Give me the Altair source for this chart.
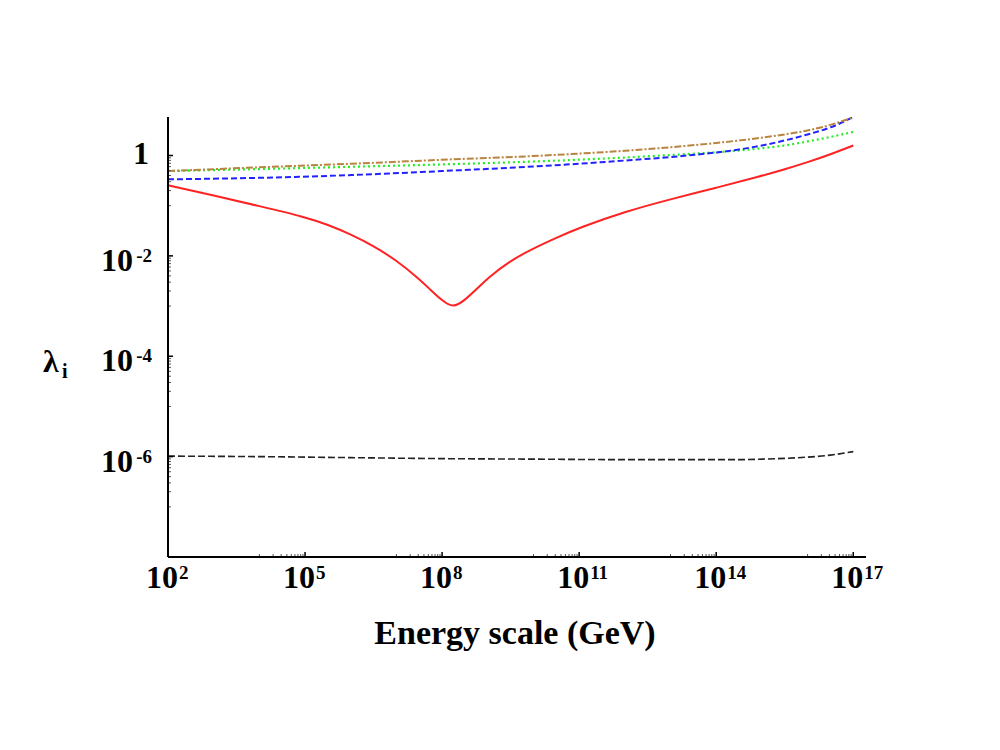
import altair as alt
import pandas as pd

# ---------------- data ----------------
energy = [1e2, 1e4, 1e6, 1e8, 1e10, 1e12, 1e13, 1e14, 3.16e14, 1e15, 3.16e15, 1e16, 3.16e16, 1e17]
lam_blue = [0.335, 0.359, 0.407, 0.490, 0.603, 0.794, 0.933, 1.148, 1.318, 1.585, 1.995, 2.630, 3.631, 5.85]
lam_green = [0.490, 0.537, 0.596, 0.664, 0.759, 0.912, 1.023, 1.161, 1.259, 1.396, 1.585, 1.905, 2.344, 2.951]
lam_brown = [0.490, 0.582, 0.684, 0.822, 0.977, 1.245, 1.462, 1.778, 1.995, 2.265, 2.630, 3.162, 4.074, 5.754]
lam_black = [1.023e-6, 1.0e-6, 9.55e-7, 9.12e-7, 8.91e-7, 8.71e-7, 8.71e-7, 8.71e-7, 8.71e-7,
             8.91e-7, 9.23e-7, 9.77e-7, 1.072e-6, 1.259e-6]

energy_red = [1e2, 1e3, 1e4, 1e5, 3.16e5, 1e6, 3.16e6, 1e7, 3.16e7, 5.62e7, 1e8, 1.74e8,
              3.16e8, 5.62e8, 1e9, 3.16e9, 1e10, 3.16e10, 1e11, 1e12, 1e13, 1e14, 1e15,
              3.16e15, 1e16, 3.16e16, 1e17]
lam_red = [0.2547, 0.1603, 0.0980, 0.0596, 0.0417, 0.0269, 0.01585, 0.00813, 0.00347, 0.00209,
           0.00129, 0.00091, 0.00132, 0.00214, 0.00363, 0.00813, 0.0141, 0.0229, 0.0363,
           0.0759, 0.135, 0.2265, 0.3936, 0.5309, 0.7328, 1.047, 1.585]

x_major = [1e2, 1e5, 1e8, 1e11, 1e14, 1e17]
x_major_exp = ["2", "5", "8", "11", "14", "17"]
y_major = [1e-6, 1e-4, 1e-2]
y_major_exp = ["-6", "-4", "-2"]
y_one = [1.0]
y_one_label = ["1"]

x_minor = [k * m / 10 for m in x_major[1:] for k in range(1, 10)]
y_minor = [k * m / 10 for m in [1e-6, 1e-4, 1e-2, 1.0] for k in range(1, 10)] + [1e-8]

x_title = "Energy scale (GeV)"

# ---------------- geometry / style ----------------
W, H = 698, 440
FONT = "Liberation Serif"
xs = alt.Scale(type="log", domain=[100, 1.9e17], nice=False)
ys = alt.Scale(type="log", domain=[1e-8, 5.85], nice=False)


def line_layer(xv, yv, color, dash, width, interp="monotone"):
    df = pd.DataFrame({"E": xv, "lam": yv})
    kw = dict(color=color, strokeWidth=width, interpolate=interp)
    if dash:
        kw["strokeDash"] = dash
    return alt.Chart(df).mark_line(**kw).encode(
        x=alt.X("E:Q", scale=xs, axis=None),
        y=alt.Y("lam:Q", scale=ys, axis=None),
    )


black = line_layer(energy, lam_black, "#222222", [7, 3], 1.6)
green = line_layer(energy, lam_green, "#22ee22", [2, 3], 2.2)
blue = line_layer(energy, lam_blue, "#2222ff", [6, 3], 2.0)
brown = line_layer(energy, lam_brown, "#b8843f", [7, 2, 2, 2], 2.0)
red = line_layer(energy_red, lam_red, "#ff2222", None, 2.0, interp="basis")

one = pd.DataFrame({"o": [0]})
domain_left = alt.Chart(one).mark_rule(color="black", strokeWidth=2).encode(
    x=alt.value(0), y=alt.value(0), y2=alt.value(H))
domain_bottom = alt.Chart(one).mark_rule(color="black", strokeWidth=2).encode(
    x=alt.value(0), x2=alt.value(W), y=alt.value(H))

# inward ticks
xmaj_df = pd.DataFrame({"E": x_major, "exp": x_major_exp})
xmin_df = pd.DataFrame({"E": x_minor})
ymaj_df = pd.DataFrame({"lam": y_major, "exp": y_major_exp})
ymaj_all = pd.DataFrame({"lam": y_major + y_one})
ymin_df = pd.DataFrame({"lam": y_minor})
yone_df = pd.DataFrame({"lam": y_one, "t": y_one_label})

xtick_major = alt.Chart(xmaj_df).mark_rule(color="black", strokeWidth=1.5).encode(
    x=alt.X("E:Q", scale=xs, axis=None), y=alt.value(H), y2=alt.value(H - 5))
xtick_minor = alt.Chart(xmin_df).mark_rule(color="#555555", strokeWidth=1).encode(
    x=alt.X("E:Q", scale=xs, axis=None), y=alt.value(H), y2=alt.value(H - 3))
ytick_major = alt.Chart(ymaj_all).mark_rule(color="black", strokeWidth=1.5).encode(
    y=alt.Y("lam:Q", scale=ys, axis=None), x=alt.value(0), x2=alt.value(5))
ytick_minor = alt.Chart(ymin_df).mark_rule(color="#555555", strokeWidth=1).encode(
    y=alt.Y("lam:Q", scale=ys, axis=None), x=alt.value(0), x2=alt.value(3))

# x tick labels: "10" + superscript exponent
xlab_base = alt.Chart(xmaj_df).mark_text(
    align="right", baseline="alphabetic", dx=10, font=FONT, fontWeight="bold",
    fontSize=32, color="black").encode(
    x=alt.X("E:Q", scale=xs, axis=None), y=alt.value(H + 31), text=alt.value("10"))
xlab_exp = alt.Chart(xmaj_df).mark_text(
    align="left", baseline="alphabetic", dx=11, font=FONT, fontWeight="bold",
    fontSize=19, color="black").encode(
    x=alt.X("E:Q", scale=xs, axis=None), y=alt.value(H + 22), text="exp:N")

# y tick labels
ylab_base = alt.Chart(ymaj_df).mark_text(
    align="right", baseline="alphabetic", dy=15, font=FONT, fontWeight="bold",
    fontSize=32, color="black").encode(
    y=alt.Y("lam:Q", scale=ys, axis=None), x=alt.value(-35), text=alt.value("10"))
ylab_exp = alt.Chart(ymaj_df).mark_text(
    align="right", baseline="alphabetic", dy=6, font=FONT, fontWeight="bold",
    fontSize=19, color="black").encode(
    y=alt.Y("lam:Q", scale=ys, axis=None), x=alt.value(-16), text="exp:N")
ylab_one = alt.Chart(yone_df).mark_text(
    align="right", baseline="alphabetic", dy=8, font=FONT, fontWeight="bold",
    fontSize=32, color="black").encode(
    y=alt.Y("lam:Q", scale=ys, axis=None), x=alt.value(-19), text="t:N")

# titles
xt = alt.Chart(pd.DataFrame({"t": [x_title]})).mark_text(
    align="center", baseline="alphabetic", font=FONT, fontWeight="bold",
    fontSize=34, color="black").encode(
    x=alt.value(W / 2 - 2), y=alt.value(H + 87), text="t:N")
yt_main = alt.Chart(pd.DataFrame({"t": ["λ"]})).mark_text(
    align="left", baseline="alphabetic", font=FONT, fontWeight="bold",
    fontSize=32, color="black").encode(
    x=alt.value(-125), y=alt.value(255), text="t:N")
yt_sub = alt.Chart(pd.DataFrame({"t": ["i"]})).mark_text(
    align="left", baseline="alphabetic", font=FONT, fontWeight="bold",
    fontSize=20, color="black").encode(
    x=alt.value(-106), y=alt.value(261), text="t:N")

chart = alt.layer(
    black, green, blue, brown, red,
    xtick_minor, xtick_major, ytick_minor, ytick_major,
    domain_left, domain_bottom,
    xlab_base, xlab_exp, ylab_base, ylab_exp, ylab_one,
    xt, yt_main, yt_sub,
).properties(
    width=W, height=H,
    autosize=alt.AutoSizeParams(type="none"),
    padding={"left": 160, "top": 109, "right": 126, "bottom": 185},
).configure_view(stroke=None)

chart.save("out.html", embed_options={"renderer": "svg", "actions": False})
